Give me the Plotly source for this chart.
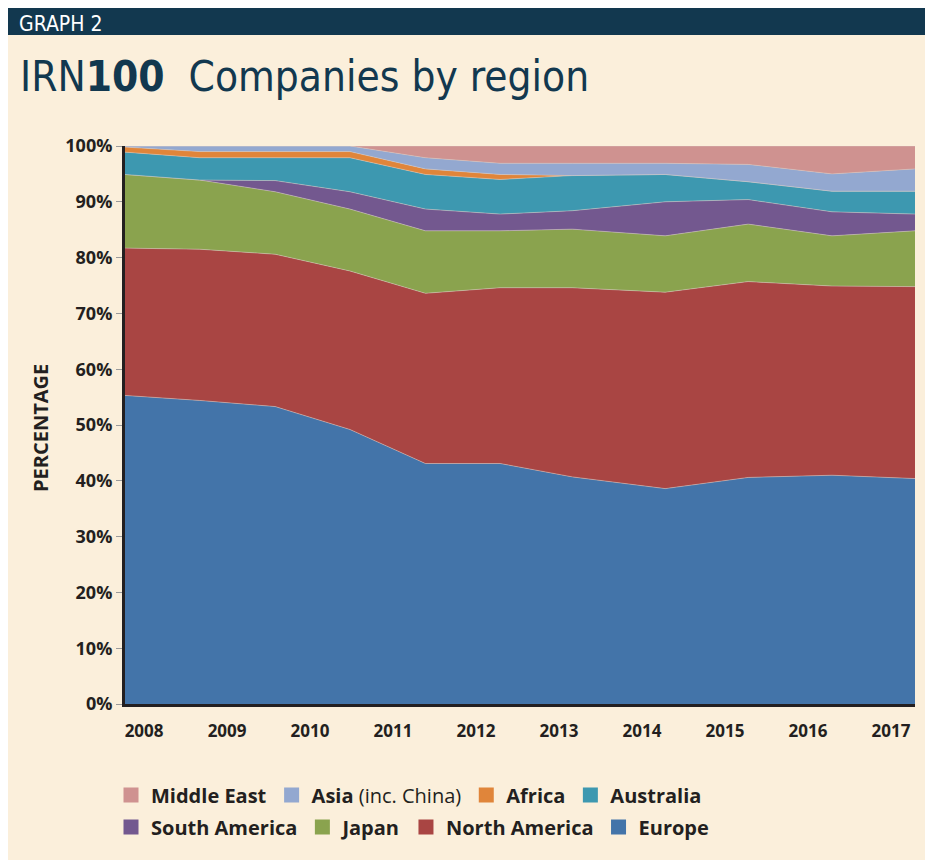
import plotly.graph_objects as go

# ---------------- data ----------------
# time position of each point (fractional years, as plotted)
x_points = [2007.77, 2008.67, 2009.58, 2010.48, 2011.39, 2012.29,
            2013.16, 2014.28, 2015.28, 2016.29, 2017.29]
year_ticks = [2008, 2009, 2010, 2011, 2012, 2013, 2014, 2015, 2016, 2017]

europe        = [55.3, 54.4, 53.3, 49.2, 43.1, 43.1, 40.7, 38.6, 40.6, 41.0, 40.4]
north_america = [26.4, 27.1, 27.3, 28.4, 30.5, 31.5, 33.9, 35.2, 35.1, 33.9, 34.4]
japan         = [13.2, 12.4, 11.2, 11.1, 11.2, 10.2, 10.5, 10.1, 10.3, 9.0, 10.0]
south_america = [0.0, 0.0, 2.0, 3.1, 3.9, 3.0, 3.3, 6.1, 4.4, 4.3, 3.0]
australia     = [4.0, 4.0, 4.1, 6.1, 6.2, 6.2, 6.3, 4.9, 3.2, 3.7, 4.1]
africa        = [0.9, 1.1, 1.1, 1.1, 1.0, 0.9, 0.0, 0.0, 0.0, 0.0, 0.0]
asia          = [0.2, 1.0, 1.0, 1.0, 2.0, 2.0, 2.2, 2.0, 3.1, 3.1, 4.0]
middle_east   = [0.0, 0.0, 0.0, 0.0, 2.1, 3.1, 3.1, 3.1, 3.3, 5.0, 4.1]

series = [
    ("Europe", "<b>Europe</b>", europe, "#4374A9", "legend2"),
    ("North America", "<b>North America</b>", north_america, "#A94543", "legend2"),
    ("Japan", "<b>Japan</b>", japan, "#8AA34E", "legend2"),
    ("South America", "<b>South America</b>", south_america, "#73588F", "legend2"),
    ("Australia", "<b>Australia</b>", australia, "#3D98B0", "legend"),
    ("Africa", "<b>Africa</b>", africa, "#E0853A", "legend"),
    ("Asia", "<b>Asia</b> (inc. China)", asia, "#93A8D0", "legend"),
    ("Middle East", "<b>Middle East</b>", middle_east, "#CF9290", "legend"),
]

# ---------------- layout geometry ----------------
OFF = 8                      # page body margin of the browser
W, H = 933 - OFF, 863 - OFF  # figure size so that it fits the window
# plot area in page pixels: x 125..915, y 146..704
ML, MT = 125 - OFF, 146 - OFF
MR, MB = 933 - 915, 863 - 704
PW, PH = W - ML - MR, H - MT - MB

def px2x(px):
    return (px - OFF - ML) / PW

def py2y(py):
    return (H - MB - (py - OFF)) / PH

CREAM = "#FBEFDB"
DARK = "#12384F"
INK = "#231F20"
FONT = "Open Sans, Noto Sans, sans-serif"
COND = "Liberation Sans Narrow, DejaVu Sans Condensed, Roboto, sans-serif"

fig = go.Figure()

for name, label, vals, color, lg in series:
    fig.add_trace(go.Scatter(
        x=x_points, y=vals, name=name, stackgroup="one",
        mode="lines", line=dict(width=0.6, color="rgba(215,205,200,0.8)"),
        fillcolor=color, showlegend=False, hoverinfo="x+y+name",
    ))

for name, label, vals, color, lg in series:
    fig.add_trace(go.Scatter(
        x=[None], y=[None], name=label, mode="markers",
        marker=dict(symbol="square", size=15, color=color),
        legend=lg, showlegend=True,
    ))

legend_common = dict(
    orientation="h", xanchor="left", yanchor="middle",
    font=dict(family=FONT, size=20, color=INK),
    traceorder="reversed", bgcolor="rgba(0,0,0,0)", itemwidth=30,
)

fig.update_layout(
    width=W, height=H,
    margin=dict(l=ML, r=MR, t=MT, b=MB),
    paper_bgcolor="white",
    plot_bgcolor=CREAM,
    showlegend=True,
    legend=dict(x=px2x(111), y=py2y(795), **legend_common),
    legend2=dict(x=px2x(111), y=py2y(827), **legend_common),
    xaxis=dict(
        range=[x_points[0], x_points[-1]],
        tickvals=year_ticks, ticktext=[str(y) for y in year_ticks],
        showgrid=False, zeroline=False,
        showline=True, linewidth=3, linecolor=INK,
        ticks="outside", ticklen=10, tickcolor="rgba(0,0,0,0)",
        tickfont=dict(family=FONT, size=17, color=INK, weight=700),
    ),
    yaxis=dict(
        range=[0, 100], dtick=10, ticksuffix="%",
        showgrid=False, zeroline=False,
        showline=True, linewidth=3, linecolor=INK,
        ticks="outside", ticklen=6, tickcolor="#9A9A9A", tickwidth=1,
        tickfont=dict(family=FONT, size=18, color=INK, weight=700),
    ),
    shapes=[
        dict(type="rect", xref="paper", yref="paper", layer="below",
             x0=px2x(6), x1=px2x(930), y0=py2y(35), y1=py2y(860),
             fillcolor=CREAM, line=dict(width=0)),
        dict(type="rect", xref="paper", yref="paper", layer="below",
             x0=px2x(6), x1=px2x(930), y0=py2y(6), y1=py2y(35),
             fillcolor=DARK, line=dict(width=0)),
    ],
    annotations=[
        dict(text="GRAPH 2", xref="paper", yref="paper",
             x=px2x(17), y=py2y(24), xanchor="left", yanchor="middle",
             showarrow=False, font=dict(family=COND, size=21, color="white")),
        dict(text="IRN<b>100</b>\u00a0 Companies by region", xref="paper", yref="paper",
             x=px2x(18), y=py2y(76), xanchor="left", yanchor="middle",
             showarrow=False, font=dict(family=COND, size=42, color=DARK)),
        dict(text="<b>PERCENTAGE</b>", xref="paper", yref="paper",
             x=px2x(40), y=py2y(428), xanchor="center", yanchor="middle",
             textangle=-90, showarrow=False,
             font=dict(family=FONT, size=20, color=INK)),
    ],
)

fig.write_html("out.html")
